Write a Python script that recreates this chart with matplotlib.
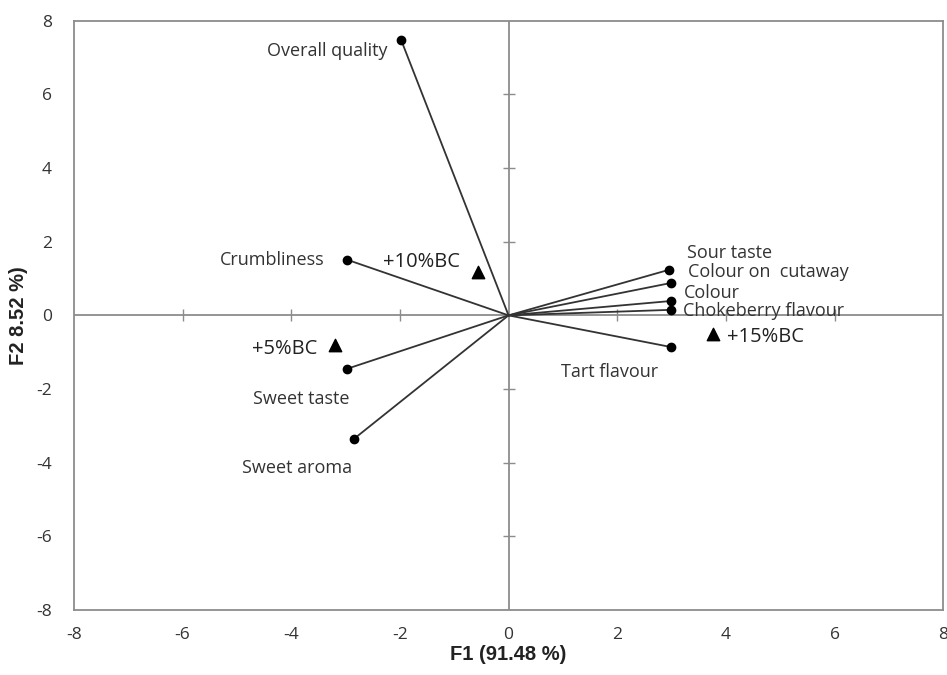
import matplotlib
matplotlib.use("Agg")
import matplotlib.pyplot as plt

plt.rcParams["axes.unicode_minus"] = False

# PCA biplot: sensory attributes (vectors) and samples (triangles)
attr_names = ["Overall quality", "Crumbliness", "Sour taste", "Colour on  cutaway",
              "Colour", "Chokeberry flavour", "Tart flavour", "Sweet taste", "Sweet aroma"]
attr_x = [-1.98, -2.97, 2.96, 2.99, 2.99, 2.99, 2.99, -2.97, -2.85]
attr_y = [7.49, 1.51, 1.24, 0.88, 0.39, 0.15, -0.86, -1.45, -3.36]

sample_names = ["+10%BC", "+15%BC", "+5%BC"]
sample_x = [-0.56, 3.77, -3.19]
sample_y = [1.18, -0.50, -0.80]

ticks = [-8, -6, -4, -2, 0, 2, 4, 6, 8]
inner_ticks = [-6, -4, -2, 2, 4, 6]

# label offsets (points) and alignment
attr_offsets = {
    "Overall quality": ((-10, -8), "right"),
    "Crumbliness": ((-16, 0), "right"),
    "Sour taste": ((13, 12), "left"),
    "Colour on  cutaway": ((12, 8), "left"),
    "Colour": ((9, 6), "left"),
    "Chokeberry flavour": ((9, -1), "left"),
    "Tart flavour": ((-44, -18), "center"),
    "Sweet taste": ((-33, -22), "center"),
    "Sweet aroma": ((-41, -21), "center"),
}
sample_offsets = {
    "+10%BC": ((-13, 7), "right"),
    "+15%BC": ((10, -2), "left"),
    "+5%BC": ((-13, -3), "right"),
}

fig = plt.figure(figsize=(9.47, 6.75), dpi=100)
ax = fig.add_axes([0.078, 0.0963, 0.918, 0.873])

grey = "#8c8c8c"
ax.axhline(0, color=grey, lw=1.3, zorder=1)
ax.axvline(0, color=grey, lw=1.3, zorder=1)
ax.plot(inner_ticks, [0] * len(inner_ticks), ls="none", marker="|",
        ms=9, mew=1.0, color=grey, zorder=1)
ax.plot([0] * len(inner_ticks), inner_ticks, ls="none", marker="_",
        ms=9, mew=1.0, color=grey, zorder=1)

for x, y in zip(attr_x, attr_y):
    ax.plot([0, x], [0, y], color="#333333", lw=1.3, zorder=2)
ax.scatter(attr_x, attr_y, s=36, color="black", zorder=3)
ax.scatter(sample_x, sample_y, s=80, marker="^", color="black", zorder=3)

txt = dict(fontsize=13, color="#333333", family="Open Sans")
for n, x, y in zip(attr_names, attr_x, attr_y):
    off, ha = attr_offsets[n]
    ax.annotate(n, (x, y), xytext=off, textcoords="offset points",
                ha=ha, va="center", **txt)
for n, x, y in zip(sample_names, sample_x, sample_y):
    off, ha = sample_offsets[n]
    ax.annotate(n, (x, y), xytext=off, textcoords="offset points",
                ha=ha, va="center", fontsize=14.5, color="#222222", family="Open Sans")

ax.set_xlim(-8, 8)
ax.set_ylim(-8, 8)
ax.set_xticks(ticks)
ax.set_yticks(ticks)
ax.tick_params(length=0, labelsize=12.5, labelcolor="#333333")
ax.tick_params(axis="x", pad=12)
ax.tick_params(axis="y", pad=16)
for lab in ax.get_xticklabels() + ax.get_yticklabels():
    lab.set_family("Open Sans")
for sp in ax.spines.values():
    sp.set_color(grey)
    sp.set_linewidth(1.3)

ax.set_xlabel("F1 (91.48 %)", fontsize=14.5, fontweight="bold",
              family="Liberation Sans", labelpad=2, color="#222222")
ax.set_ylabel("F2 8.52 %)", fontsize=14.5, fontweight="bold",
              family="Liberation Sans", labelpad=6, color="#222222")

fig.savefig("out.png", dpi=100)
